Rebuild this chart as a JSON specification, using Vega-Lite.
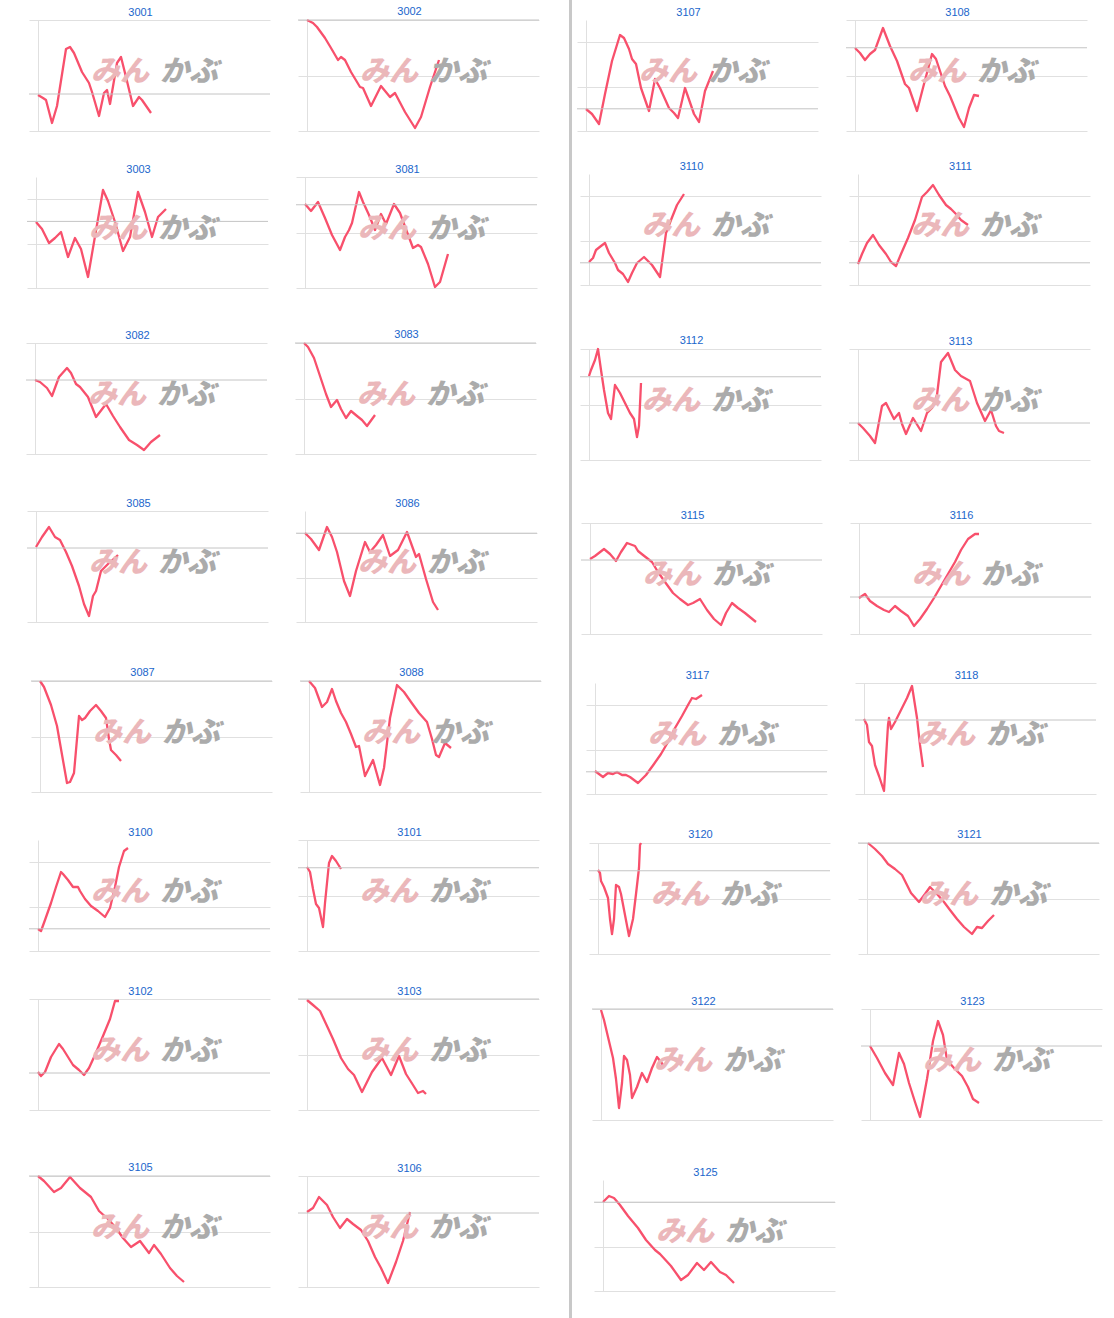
{
"$schema":"https://vega.github.io/schema/vega-lite/v6.json",
"background":"white",
"padding":{"left":24,"top":0,"right":0,"bottom":0},
"config":{
 "view":{"stroke":null},
 "axis":{"labels":false,"ticks":false,"domain":false,"grid":true,"gridColor":"#e0e0e0","gridWidth":1},
 "axisY":{"minExtent":0,"maxExtent":0},
 "axisX":{"minExtent":0,"maxExtent":0},
 "title":{"font":"Liberation Sans","fontSize":11,"fontWeight":"normal","color":"#1a66cc","offset":2,"anchor":"middle","dx":-9},
 "line":{"color":"#f8506c","strokeWidth":2.3,"strokeJoin":"round"},
 "rule":{"color":"#c4c4c4","strokeWidth":1},
 "point":{"size":0,"opacity":0,"filled":true,"strokeWidth":0},
 "text":{"font":"Noto Sans CJK JP","fontSize":29,"fontWeight":900,"fontStyle":"italic","align":"center","baseline":"middle"}
},
"datasets":{"d":[
{"c":"3001","t":0,"v":36},{"c":"3001","t":5,"v":33},{"c":"3001","t":8,"v":31},{"c":"3001","t":14,"v":8},{"c":"3001","t":19,"v":25},{"c":"3001","t":28,"v":82},{"c":"3001","t":32,"v":84},{"c":"3001","t":36,"v":78},{"c":"3001","t":44,"v":59},{"c":"3001","t":51,"v":48},{"c":"3001","t":54,"v":39},{"c":"3001","t":61,"v":15},{"c":"3001","t":66,"v":38},{"c":"3001","t":69,"v":41},{"c":"3001","t":72,"v":27},{"c":"3001","t":79,"v":68},{"c":"3001","t":83,"v":74},{"c":"3001","t":88,"v":54},{"c":"3001","t":95,"v":25},{"c":"3001","t":101,"v":34},{"c":"3001","t":104,"v":31},{"c":"3001","t":113,"v":18},
{"c":"3002","t":0,"v":111},{"c":"3002","t":6,"v":108},{"c":"3002","t":10,"v":104},{"c":"3002","t":18,"v":93},{"c":"3002","t":24,"v":83},{"c":"3002","t":31,"v":71},{"c":"3002","t":34,"v":74},{"c":"3002","t":38,"v":71},{"c":"3002","t":44,"v":59},{"c":"3002","t":53,"v":44},{"c":"3002","t":56,"v":43},{"c":"3002","t":64,"v":25},{"c":"3002","t":74,"v":45},{"c":"3002","t":83,"v":34},{"c":"3002","t":88,"v":38},{"c":"3002","t":98,"v":19},{"c":"3002","t":108,"v":3},{"c":"3002","t":114,"v":14},{"c":"3002","t":123,"v":44},{"c":"3002","t":132,"v":71},
{"c":"3003","t":0,"v":66},{"c":"3003","t":6,"v":59},{"c":"3003","t":13,"v":45},{"c":"3003","t":19,"v":50},{"c":"3003","t":25,"v":56},{"c":"3003","t":32,"v":31},{"c":"3003","t":39,"v":50},{"c":"3003","t":45,"v":39},{"c":"3003","t":52,"v":11},{"c":"3003","t":67,"v":98},{"c":"3003","t":72,"v":87},{"c":"3003","t":79,"v":66},{"c":"3003","t":87,"v":37},{"c":"3003","t":94,"v":51},{"c":"3003","t":102,"v":96},{"c":"3003","t":109,"v":76},{"c":"3003","t":116,"v":51},{"c":"3003","t":122,"v":71},{"c":"3003","t":130,"v":79},
{"c":"3081","t":0,"v":84},{"c":"3081","t":6,"v":77},{"c":"3081","t":13,"v":86},{"c":"3081","t":20,"v":70},{"c":"3081","t":27,"v":53},{"c":"3081","t":35,"v":38},{"c":"3081","t":40,"v":51},{"c":"3081","t":44,"v":58},{"c":"3081","t":47,"v":65},{"c":"3081","t":54,"v":96},{"c":"3081","t":58,"v":86},{"c":"3081","t":64,"v":73},{"c":"3081","t":70,"v":58},{"c":"3081","t":76,"v":74},{"c":"3081","t":81,"v":64},{"c":"3081","t":89,"v":84},{"c":"3081","t":95,"v":75},{"c":"3081","t":102,"v":56},{"c":"3081","t":108,"v":40},{"c":"3081","t":113,"v":43},{"c":"3081","t":116,"v":41},{"c":"3081","t":123,"v":24},{"c":"3081","t":130,"v":1},{"c":"3081","t":135,"v":6},{"c":"3081","t":143,"v":34},
{"c":"3082","t":0,"v":74},{"c":"3082","t":5,"v":72},{"c":"3082","t":12,"v":66},{"c":"3082","t":17,"v":58},{"c":"3082","t":24,"v":77},{"c":"3082","t":32,"v":86},{"c":"3082","t":36,"v":81},{"c":"3082","t":41,"v":70},{"c":"3082","t":45,"v":67},{"c":"3082","t":53,"v":57},{"c":"3082","t":61,"v":37},{"c":"3082","t":71,"v":50},{"c":"3082","t":78,"v":38},{"c":"3082","t":85,"v":27},{"c":"3082","t":94,"v":14},{"c":"3082","t":102,"v":9},{"c":"3082","t":109,"v":4},{"c":"3082","t":116,"v":12},{"c":"3082","t":125,"v":19},
{"c":"3083","t":0,"v":111},{"c":"3083","t":4,"v":107},{"c":"3083","t":10,"v":96},{"c":"3083","t":17,"v":75},{"c":"3083","t":22,"v":60},{"c":"3083","t":27,"v":47},{"c":"3083","t":33,"v":54},{"c":"3083","t":37,"v":45},{"c":"3083","t":42,"v":36},{"c":"3083","t":47,"v":43},{"c":"3083","t":53,"v":38},{"c":"3083","t":58,"v":34},{"c":"3083","t":63,"v":28},{"c":"3083","t":71,"v":39},
{"c":"3085","t":0,"v":75},{"c":"3085","t":6,"v":85},{"c":"3085","t":13,"v":95},{"c":"3085","t":19,"v":85},{"c":"3085","t":24,"v":82},{"c":"3085","t":30,"v":70},{"c":"3085","t":36,"v":56},{"c":"3085","t":43,"v":36},{"c":"3085","t":48,"v":18},{"c":"3085","t":53,"v":6},{"c":"3085","t":57,"v":26},{"c":"3085","t":60,"v":31},{"c":"3085","t":65,"v":51},{"c":"3085","t":72,"v":58},{"c":"3085","t":82,"v":67},
{"c":"3086","t":0,"v":89},{"c":"3086","t":6,"v":83},{"c":"3086","t":14,"v":72},{"c":"3086","t":22,"v":95},{"c":"3086","t":27,"v":85},{"c":"3086","t":32,"v":70},{"c":"3086","t":39,"v":41},{"c":"3086","t":45,"v":26},{"c":"3086","t":51,"v":51},{"c":"3086","t":60,"v":80},{"c":"3086","t":65,"v":70},{"c":"3086","t":71,"v":77},{"c":"3086","t":78,"v":87},{"c":"3086","t":85,"v":66},{"c":"3086","t":93,"v":72},{"c":"3086","t":102,"v":90},{"c":"3086","t":111,"v":65},{"c":"3086","t":114,"v":68},{"c":"3086","t":121,"v":43},{"c":"3086","t":128,"v":20},{"c":"3086","t":133,"v":12},
{"c":"3087","t":0,"v":111},{"c":"3087","t":4,"v":105},{"c":"3087","t":11,"v":87},{"c":"3087","t":17,"v":66},{"c":"3087","t":21,"v":43},{"c":"3087","t":27,"v":9},{"c":"3087","t":30,"v":10},{"c":"3087","t":34,"v":19},{"c":"3087","t":39,"v":76},{"c":"3087","t":42,"v":72},{"c":"3087","t":45,"v":74},{"c":"3087","t":50,"v":81},{"c":"3087","t":56,"v":87},{"c":"3087","t":61,"v":81},{"c":"3087","t":66,"v":74},{"c":"3087","t":69,"v":53},{"c":"3087","t":71,"v":42},{"c":"3087","t":76,"v":37},{"c":"3087","t":81,"v":31},
{"c":"3088","t":0,"v":111},{"c":"3088","t":6,"v":104},{"c":"3088","t":13,"v":85},{"c":"3088","t":18,"v":90},{"c":"3088","t":23,"v":103},{"c":"3088","t":27,"v":91},{"c":"3088","t":32,"v":79},{"c":"3088","t":37,"v":70},{"c":"3088","t":42,"v":58},{"c":"3088","t":47,"v":45},{"c":"3088","t":50,"v":46},{"c":"3088","t":56,"v":16},{"c":"3088","t":64,"v":32},{"c":"3088","t":71,"v":7},{"c":"3088","t":75,"v":24},{"c":"3088","t":81,"v":74},{"c":"3088","t":88,"v":107},{"c":"3088","t":95,"v":100},{"c":"3088","t":102,"v":90},{"c":"3088","t":110,"v":79},{"c":"3088","t":118,"v":70},{"c":"3088","t":123,"v":53},{"c":"3088","t":127,"v":37},{"c":"3088","t":130,"v":35},{"c":"3088","t":136,"v":49},{"c":"3088","t":142,"v":44},
{"c":"3100","t":0,"v":22},{"c":"3100","t":3,"v":20},{"c":"3100","t":7,"v":31},{"c":"3100","t":13,"v":48},{"c":"3100","t":18,"v":64},{"c":"3100","t":23,"v":79},{"c":"3100","t":25,"v":77},{"c":"3100","t":30,"v":71},{"c":"3100","t":35,"v":64},{"c":"3100","t":40,"v":64},{"c":"3100","t":42,"v":60},{"c":"3100","t":47,"v":52},{"c":"3100","t":53,"v":45},{"c":"3100","t":60,"v":40},{"c":"3100","t":67,"v":34},{"c":"3100","t":72,"v":43},{"c":"3100","t":77,"v":64},{"c":"3100","t":81,"v":84},{"c":"3100","t":86,"v":100},{"c":"3100","t":90,"v":103},
{"c":"3101","t":0,"v":84},{"c":"3101","t":3,"v":79},{"c":"3101","t":6,"v":62},{"c":"3101","t":9,"v":47},{"c":"3101","t":12,"v":43},{"c":"3101","t":16,"v":24},{"c":"3101","t":18,"v":48},{"c":"3101","t":22,"v":88},{"c":"3101","t":25,"v":95},{"c":"3101","t":29,"v":90},{"c":"3101","t":34,"v":82},
{"c":"3102","t":0,"v":38},{"c":"3102","t":3,"v":34},{"c":"3102","t":7,"v":38},{"c":"3102","t":13,"v":53},{"c":"3102","t":21,"v":66},{"c":"3102","t":25,"v":61},{"c":"3102","t":30,"v":53},{"c":"3102","t":35,"v":45},{"c":"3102","t":41,"v":40},{"c":"3102","t":46,"v":35},{"c":"3102","t":51,"v":42},{"c":"3102","t":57,"v":55},{"c":"3102","t":65,"v":74},{"c":"3102","t":72,"v":91},{"c":"3102","t":77,"v":109},{"c":"3102","t":81,"v":109},
{"c":"3103","t":0,"v":110},{"c":"3103","t":6,"v":105},{"c":"3103","t":13,"v":99},{"c":"3103","t":20,"v":84},{"c":"3103","t":26,"v":71},{"c":"3103","t":34,"v":52},{"c":"3103","t":41,"v":41},{"c":"3103","t":47,"v":35},{"c":"3103","t":55,"v":18},{"c":"3103","t":65,"v":38},{"c":"3103","t":75,"v":52},{"c":"3103","t":84,"v":35},{"c":"3103","t":92,"v":54},{"c":"3103","t":99,"v":36},{"c":"3103","t":106,"v":25},{"c":"3103","t":111,"v":17},{"c":"3103","t":116,"v":19},{"c":"3103","t":119,"v":16},
{"c":"3105","t":0,"v":111},{"c":"3105","t":6,"v":106},{"c":"3105","t":16,"v":95},{"c":"3105","t":23,"v":99},{"c":"3105","t":32,"v":110},{"c":"3105","t":42,"v":99},{"c":"3105","t":53,"v":90},{"c":"3105","t":61,"v":76},{"c":"3105","t":70,"v":68},{"c":"3105","t":78,"v":59},{"c":"3105","t":85,"v":49},{"c":"3105","t":93,"v":40},{"c":"3105","t":102,"v":46},{"c":"3105","t":111,"v":34},{"c":"3105","t":116,"v":42},{"c":"3105","t":123,"v":33},{"c":"3105","t":132,"v":19},{"c":"3105","t":139,"v":11},{"c":"3105","t":146,"v":5},
{"c":"3106","t":0,"v":75},{"c":"3106","t":6,"v":79},{"c":"3106","t":12,"v":90},{"c":"3106","t":20,"v":82},{"c":"3106","t":26,"v":70},{"c":"3106","t":33,"v":59},{"c":"3106","t":40,"v":68},{"c":"3106","t":46,"v":63},{"c":"3106","t":54,"v":57},{"c":"3106","t":61,"v":46},{"c":"3106","t":68,"v":30},{"c":"3106","t":74,"v":19},{"c":"3106","t":81,"v":4},{"c":"3106","t":89,"v":25},{"c":"3106","t":96,"v":46},{"c":"3106","t":103,"v":75},
{"c":"3107","t":0,"v":22},{"c":"3107","t":6,"v":17},{"c":"3107","t":13,"v":7},{"c":"3107","t":19,"v":37},{"c":"3107","t":26,"v":70},{"c":"3107","t":34,"v":96},{"c":"3107","t":38,"v":93},{"c":"3107","t":43,"v":82},{"c":"3107","t":46,"v":72},{"c":"3107","t":50,"v":67},{"c":"3107","t":55,"v":43},{"c":"3107","t":63,"v":20},{"c":"3107","t":69,"v":52},{"c":"3107","t":74,"v":43},{"c":"3107","t":83,"v":23},{"c":"3107","t":88,"v":18},{"c":"3107","t":92,"v":13},{"c":"3107","t":99,"v":43},{"c":"3107","t":108,"v":17},{"c":"3107","t":113,"v":9},{"c":"3107","t":119,"v":40},{"c":"3107","t":127,"v":60},
{"c":"3108","t":0,"v":83},{"c":"3108","t":5,"v":78},{"c":"3108","t":10,"v":71},{"c":"3108","t":15,"v":77},{"c":"3108","t":20,"v":81},{"c":"3108","t":28,"v":103},{"c":"3108","t":35,"v":85},{"c":"3108","t":42,"v":70},{"c":"3108","t":50,"v":47},{"c":"3108","t":54,"v":43},{"c":"3108","t":62,"v":20},{"c":"3108","t":69,"v":47},{"c":"3108","t":77,"v":77},{"c":"3108","t":81,"v":72},{"c":"3108","t":90,"v":45},{"c":"3108","t":95,"v":35},{"c":"3108","t":104,"v":13},{"c":"3108","t":109,"v":4},{"c":"3108","t":114,"v":23},{"c":"3108","t":119,"v":36},{"c":"3108","t":124,"v":35},
{"c":"3110","t":0,"v":23},{"c":"3110","t":4,"v":27},{"c":"3110","t":7,"v":35},{"c":"3110","t":12,"v":39},{"c":"3110","t":16,"v":42},{"c":"3110","t":20,"v":32},{"c":"3110","t":26,"v":22},{"c":"3110","t":29,"v":15},{"c":"3110","t":34,"v":11},{"c":"3110","t":39,"v":3},{"c":"3110","t":43,"v":12},{"c":"3110","t":48,"v":22},{"c":"3110","t":55,"v":28},{"c":"3110","t":63,"v":20},{"c":"3110","t":71,"v":8},{"c":"3110","t":74,"v":30},{"c":"3110","t":77,"v":52},{"c":"3110","t":82,"v":65},{"c":"3110","t":88,"v":80},{"c":"3110","t":95,"v":91},
{"c":"3111","t":0,"v":21},{"c":"3111","t":4,"v":31},{"c":"3111","t":9,"v":42},{"c":"3111","t":15,"v":50},{"c":"3111","t":21,"v":40},{"c":"3111","t":28,"v":31},{"c":"3111","t":33,"v":23},{"c":"3111","t":38,"v":19},{"c":"3111","t":43,"v":31},{"c":"3111","t":50,"v":47},{"c":"3111","t":57,"v":65},{"c":"3111","t":64,"v":88},{"c":"3111","t":69,"v":93},{"c":"3111","t":75,"v":100},{"c":"3111","t":81,"v":90},{"c":"3111","t":88,"v":80},{"c":"3111","t":93,"v":76},{"c":"3111","t":98,"v":71},{"c":"3111","t":103,"v":65},{"c":"3111","t":110,"v":60},
{"c":"3112","t":0,"v":84},{"c":"3112","t":2,"v":90},{"c":"3112","t":6,"v":100},{"c":"3112","t":9,"v":111},{"c":"3112","t":12,"v":90},{"c":"3112","t":15,"v":70},{"c":"3112","t":19,"v":47},{"c":"3112","t":22,"v":41},{"c":"3112","t":26,"v":75},{"c":"3112","t":31,"v":67},{"c":"3112","t":36,"v":57},{"c":"3112","t":41,"v":47},{"c":"3112","t":45,"v":41},{"c":"3112","t":48,"v":23},{"c":"3112","t":50,"v":34},{"c":"3112","t":52,"v":77},
{"c":"3113","t":0,"v":37},{"c":"3113","t":5,"v":32},{"c":"3113","t":12,"v":24},{"c":"3113","t":17,"v":17},{"c":"3113","t":24,"v":54},{"c":"3113","t":28,"v":57},{"c":"3113","t":33,"v":47},{"c":"3113","t":36,"v":41},{"c":"3113","t":41,"v":47},{"c":"3113","t":44,"v":36},{"c":"3113","t":48,"v":26},{"c":"3113","t":55,"v":42},{"c":"3113","t":63,"v":29},{"c":"3113","t":69,"v":47},{"c":"3113","t":74,"v":52},{"c":"3113","t":79,"v":65},{"c":"3113","t":83,"v":98},{"c":"3113","t":90,"v":107},{"c":"3113","t":97,"v":90},{"c":"3113","t":103,"v":84},{"c":"3113","t":112,"v":79},{"c":"3113","t":119,"v":57},{"c":"3113","t":127,"v":39},{"c":"3113","t":133,"v":50},{"c":"3113","t":138,"v":34},{"c":"3113","t":141,"v":29},{"c":"3113","t":146,"v":27},
{"c":"3115","t":0,"v":75},{"c":"3115","t":5,"v":78},{"c":"3115","t":14,"v":85},{"c":"3115","t":20,"v":80},{"c":"3115","t":26,"v":73},{"c":"3115","t":31,"v":82},{"c":"3115","t":37,"v":91},{"c":"3115","t":45,"v":88},{"c":"3115","t":48,"v":83},{"c":"3115","t":53,"v":79},{"c":"3115","t":62,"v":72},{"c":"3115","t":68,"v":62},{"c":"3115","t":75,"v":52},{"c":"3115","t":83,"v":41},{"c":"3115","t":90,"v":35},{"c":"3115","t":98,"v":29},{"c":"3115","t":103,"v":31},{"c":"3115","t":110,"v":35},{"c":"3115","t":117,"v":24},{"c":"3115","t":124,"v":15},{"c":"3115","t":131,"v":9},{"c":"3115","t":136,"v":21},{"c":"3115","t":142,"v":31},{"c":"3115","t":148,"v":26},{"c":"3115","t":155,"v":21},{"c":"3115","t":166,"v":12},
{"c":"3116","t":0,"v":36},{"c":"3116","t":6,"v":40},{"c":"3116","t":11,"v":33},{"c":"3116","t":18,"v":28},{"c":"3116","t":25,"v":24},{"c":"3116","t":30,"v":22},{"c":"3116","t":36,"v":28},{"c":"3116","t":42,"v":23},{"c":"3116","t":49,"v":18},{"c":"3116","t":55,"v":8},{"c":"3116","t":61,"v":15},{"c":"3116","t":68,"v":25},{"c":"3116","t":75,"v":36},{"c":"3116","t":82,"v":48},{"c":"3116","t":89,"v":60},{"c":"3116","t":96,"v":72},{"c":"3116","t":102,"v":84},{"c":"3116","t":109,"v":95},{"c":"3116","t":116,"v":100},{"c":"3116","t":120,"v":100},
{"c":"3117","t":0,"v":23},{"c":"3117","t":4,"v":20},{"c":"3117","t":8,"v":17},{"c":"3117","t":13,"v":21},{"c":"3117","t":18,"v":20},{"c":"3117","t":22,"v":22},{"c":"3117","t":27,"v":19},{"c":"3117","t":31,"v":19},{"c":"3117","t":35,"v":17},{"c":"3117","t":43,"v":11},{"c":"3117","t":51,"v":19},{"c":"3117","t":59,"v":30},{"c":"3117","t":66,"v":40},{"c":"3117","t":73,"v":52},{"c":"3117","t":80,"v":66},{"c":"3117","t":87,"v":78},{"c":"3117","t":93,"v":89},{"c":"3117","t":97,"v":96},{"c":"3117","t":101,"v":95},{"c":"3117","t":107,"v":99},
{"c":"3118","t":0,"v":75},{"c":"3118","t":3,"v":69},{"c":"3118","t":5,"v":52},{"c":"3118","t":8,"v":48},{"c":"3118","t":11,"v":29},{"c":"3118","t":15,"v":18},{"c":"3118","t":20,"v":3},{"c":"3118","t":24,"v":69},{"c":"3118","t":25,"v":76},{"c":"3118","t":27,"v":65},{"c":"3118","t":31,"v":72},{"c":"3118","t":36,"v":82},{"c":"3118","t":43,"v":96},{"c":"3118","t":48,"v":108},{"c":"3118","t":53,"v":76},{"c":"3118","t":56,"v":49},{"c":"3118","t":59,"v":27},
{"c":"3120","t":0,"v":84},{"c":"3120","t":2,"v":81},{"c":"3120","t":3,"v":73},{"c":"3120","t":6,"v":67},{"c":"3120","t":10,"v":56},{"c":"3120","t":12,"v":35},{"c":"3120","t":14,"v":20},{"c":"3120","t":16,"v":35},{"c":"3120","t":18,"v":69},{"c":"3120","t":21,"v":67},{"c":"3120","t":23,"v":60},{"c":"3120","t":27,"v":39},{"c":"3120","t":31,"v":18},{"c":"3120","t":35,"v":35},{"c":"3120","t":38,"v":60},{"c":"3120","t":41,"v":86},{"c":"3120","t":42,"v":109},{"c":"3120","t":43,"v":111},
{"c":"3121","t":1,"v":111},{"c":"3121","t":8,"v":105},{"c":"3121","t":15,"v":98},{"c":"3121","t":21,"v":90},{"c":"3121","t":28,"v":85},{"c":"3121","t":35,"v":79},{"c":"3121","t":39,"v":71},{"c":"3121","t":44,"v":61},{"c":"3121","t":52,"v":52},{"c":"3121","t":58,"v":60},{"c":"3121","t":63,"v":67},{"c":"3121","t":70,"v":60},{"c":"3121","t":77,"v":52},{"c":"3121","t":83,"v":44},{"c":"3121","t":90,"v":35},{"c":"3121","t":97,"v":27},{"c":"3121","t":105,"v":20},{"c":"3121","t":110,"v":27},{"c":"3121","t":115,"v":26},{"c":"3121","t":121,"v":33},{"c":"3121","t":127,"v":39},
{"c":"3122","t":0,"v":110},{"c":"3122","t":3,"v":100},{"c":"3122","t":7,"v":83},{"c":"3122","t":12,"v":62},{"c":"3122","t":15,"v":41},{"c":"3122","t":18,"v":12},{"c":"3122","t":21,"v":37},{"c":"3122","t":23,"v":64},{"c":"3122","t":26,"v":60},{"c":"3122","t":29,"v":45},{"c":"3122","t":31,"v":22},{"c":"3122","t":36,"v":33},{"c":"3122","t":41,"v":47},{"c":"3122","t":46,"v":38},{"c":"3122","t":51,"v":52},{"c":"3122","t":56,"v":63},{"c":"3122","t":60,"v":58},{"c":"3122","t":62,"v":55},
{"c":"3123","t":0,"v":74},{"c":"3123","t":7,"v":62},{"c":"3123","t":15,"v":47},{"c":"3123","t":23,"v":35},{"c":"3123","t":29,"v":67},{"c":"3123","t":34,"v":56},{"c":"3123","t":39,"v":37},{"c":"3123","t":45,"v":18},{"c":"3123","t":50,"v":3},{"c":"3123","t":57,"v":41},{"c":"3123","t":63,"v":79},{"c":"3123","t":68,"v":99},{"c":"3123","t":73,"v":85},{"c":"3123","t":77,"v":60},{"c":"3123","t":84,"v":52},{"c":"3123","t":92,"v":44},{"c":"3123","t":98,"v":33},{"c":"3123","t":103,"v":21},{"c":"3123","t":109,"v":17},
{"c":"3125","t":0,"v":89},{"c":"3125","t":6,"v":95},{"c":"3125","t":11,"v":93},{"c":"3125","t":17,"v":86},{"c":"3125","t":25,"v":75},{"c":"3125","t":35,"v":63},{"c":"3125","t":43,"v":51},{"c":"3125","t":52,"v":41},{"c":"3125","t":57,"v":37},{"c":"3125","t":68,"v":25},{"c":"3125","t":78,"v":11},{"c":"3125","t":85,"v":16},{"c":"3125","t":94,"v":28},{"c":"3125","t":101,"v":21},{"c":"3125","t":108,"v":29},{"c":"3125","t":117,"v":19},{"c":"3125","t":123,"v":16},{"c":"3125","t":131,"v":8}
]},
"columns":3,
"align":"none",
"spacing":3,
"concat":[
{"columns":1,"align":"none","spacing":31,"concat":[
 {"spacing":0,"hconcat":[
  {"width":4,"height":111,"data":{"values":[{}]},"mark":"point","encoding":{}},
  {"title":"3001","width":241,"height":111,"layer":[
   {"data":{"name":"d"},"transform":[{"filter":"datum.c=='3001'"}],"mark":"line","encoding":{
    "x":{"field":"t","type":"quantitative","scale":{"domain":[-9,232],"nice":false,"zero":false},"axis":{"values":[0],"title":null,"minExtent":2,"maxExtent":2}},
    "y":{"field":"v","type":"quantitative","scale":{"domain":[0,111],"nice":false,"zero":false},"axis":{"values":[0,37,74,111],"title":null}}}},
   {"data":{"values":[{}]},"mark":"rule","encoding":{"y":{"datum":37}}},
   {"data":{"values":[{}]},"mark":{"type":"text","text":"みん","color":"#ebb7ba"},"encoding":{"x":{"datum":82},"y":{"datum":59}}},
   {"data":{"values":[{}]},"mark":{"type":"text","text":"かぶ","color":"#ababab"},"encoding":{"x":{"datum":151},"y":{"datum":59}}}]},
  {"title":"3002","width":241,"height":111,"layer":[
   {"data":{"name":"d"},"transform":[{"filter":"datum.c=='3002'"}],"mark":"line","encoding":{
    "x":{"field":"t","type":"quantitative","scale":{"domain":[-9,232],"nice":false,"zero":false},"axis":{"values":[0],"title":null,"minExtent":2,"maxExtent":2}},
    "y":{"field":"v","type":"quantitative","scale":{"domain":[0,111],"nice":false,"zero":false},"axis":{"values":[0,27.75,55.5,83.25,111],"title":null,"minExtent":27,"maxExtent":27}}}},
   {"data":{"values":[{}]},"mark":"rule","encoding":{"y":{"datum":111}}},
   {"data":{"values":[{}]},"mark":{"type":"text","text":"みん","color":"#ebb7ba"},"encoding":{"x":{"datum":82},"y":{"datum":59}}},
   {"data":{"values":[{}]},"mark":{"type":"text","text":"かぶ","color":"#ababab"},"encoding":{"x":{"datum":151},"y":{"datum":59}}}]}
 ]},
 {"spacing":0,"hconcat":[
  {"width":2,"height":111,"data":{"values":[{}]},"mark":"point","encoding":{}},
  {"title":"3003","width":241,"height":111,"layer":[
   {"data":{"name":"d"},"transform":[{"filter":"datum.c=='3003'"}],"mark":"line","encoding":{
    "x":{"field":"t","type":"quantitative","scale":{"domain":[-9,232],"nice":false,"zero":false},"axis":{"values":[0],"title":null,"minExtent":9,"maxExtent":9}},
    "y":{"field":"v","type":"quantitative","scale":{"domain":[0,111],"nice":false,"zero":false},"axis":{"values":[0,22.2,44.4,66.6,88.8,111],"title":null}}}},
   {"data":{"values":[{}]},"mark":"rule","encoding":{"y":{"datum":66.6}}},
   {"data":{"values":[{}]},"mark":{"type":"text","text":"みん","color":"#ebb7ba"},"encoding":{"x":{"datum":82},"y":{"datum":59}}},
   {"data":{"values":[{}]},"mark":{"type":"text","text":"かぶ","color":"#ababab"},"encoding":{"x":{"datum":151},"y":{"datum":59}}}]},
  {"title":"3081","width":241,"height":111,"layer":[
   {"data":{"name":"d"},"transform":[{"filter":"datum.c=='3081'"}],"mark":"line","encoding":{
    "x":{"field":"t","type":"quantitative","scale":{"domain":[-9,232],"nice":false,"zero":false},"axis":{"values":[0],"title":null,"minExtent":9,"maxExtent":9}},
    "y":{"field":"v","type":"quantitative","scale":{"domain":[0,111],"nice":false,"zero":false},"axis":{"values":[0,27.75,55.5,83.25,111],"title":null,"minExtent":27,"maxExtent":27}}}},
   {"data":{"values":[{}]},"mark":"rule","encoding":{"y":{"datum":83.25}}},
   {"data":{"values":[{}]},"mark":{"type":"text","text":"みん","color":"#ebb7ba"},"encoding":{"x":{"datum":82},"y":{"datum":59}}},
   {"data":{"values":[{}]},"mark":{"type":"text","text":"かぶ","color":"#ababab"},"encoding":{"x":{"datum":151},"y":{"datum":59}}}]}
 ]},
 {"spacing":0,"hconcat":[
  {"width":1,"height":111,"data":{"values":[{}]},"mark":"point","encoding":{}},
  {"title":"3082","width":241,"height":111,"layer":[
   {"data":{"name":"d"},"transform":[{"filter":"datum.c=='3082'"}],"mark":"line","encoding":{
    "x":{"field":"t","type":"quantitative","scale":{"domain":[-9,232],"nice":false,"zero":false},"axis":{"values":[0],"title":null,"minExtent":13,"maxExtent":13}},
    "y":{"field":"v","type":"quantitative","scale":{"domain":[0,111],"nice":false,"zero":false},"axis":{"values":[0,37,74,111],"title":null}}}},
   {"data":{"values":[{}]},"mark":"rule","encoding":{"y":{"datum":74}}},
   {"data":{"values":[{}]},"mark":{"type":"text","text":"みん","color":"#ebb7ba"},"encoding":{"x":{"datum":82},"y":{"datum":59}}},
   {"data":{"values":[{}]},"mark":{"type":"text","text":"かぶ","color":"#ababab"},"encoding":{"x":{"datum":151},"y":{"datum":59}}}]},
  {"title":"3083","width":241,"height":111,"layer":[
   {"data":{"name":"d"},"transform":[{"filter":"datum.c=='3083'"}],"mark":"line","encoding":{
    "x":{"field":"t","type":"quantitative","scale":{"domain":[-9,232],"nice":false,"zero":false},"axis":{"values":[0],"title":null,"minExtent":13,"maxExtent":13}},
    "y":{"field":"v","type":"quantitative","scale":{"domain":[0,111],"nice":false,"zero":false},"axis":{"values":[0,27.75,55.5,83.25,111],"title":null,"minExtent":27,"maxExtent":27}}}},
   {"data":{"values":[{}]},"mark":"rule","encoding":{"y":{"datum":111}}},
   {"data":{"values":[{}]},"mark":{"type":"text","text":"みん","color":"#ebb7ba"},"encoding":{"x":{"datum":82},"y":{"datum":59}}},
   {"data":{"values":[{}]},"mark":{"type":"text","text":"かぶ","color":"#ababab"},"encoding":{"x":{"datum":151},"y":{"datum":59}}}]}
 ]},
 {"spacing":0,"hconcat":[
  {"width":2,"height":111,"data":{"values":[{}]},"mark":"point","encoding":{}},
  {"title":"3085","width":241,"height":111,"layer":[
   {"data":{"name":"d"},"transform":[{"filter":"datum.c=='3085'"}],"mark":"line","encoding":{
    "x":{"field":"t","type":"quantitative","scale":{"domain":[-9,232],"nice":false,"zero":false},"axis":{"values":[0],"title":null,"minExtent":13,"maxExtent":13}},
    "y":{"field":"v","type":"quantitative","scale":{"domain":[0,111],"nice":false,"zero":false},"axis":{"values":[0,37,74,111],"title":null}}}},
   {"data":{"values":[{}]},"mark":"rule","encoding":{"y":{"datum":74}}},
   {"data":{"values":[{}]},"mark":{"type":"text","text":"みん","color":"#ebb7ba"},"encoding":{"x":{"datum":82},"y":{"datum":59}}},
   {"data":{"values":[{}]},"mark":{"type":"text","text":"かぶ","color":"#ababab"},"encoding":{"x":{"datum":151},"y":{"datum":59}}}]},
  {"title":"3086","width":241,"height":111,"layer":[
   {"data":{"name":"d"},"transform":[{"filter":"datum.c=='3086'"}],"mark":"line","encoding":{
    "x":{"field":"t","type":"quantitative","scale":{"domain":[-9,232],"nice":false,"zero":false},"axis":{"values":[0],"title":null,"minExtent":13,"maxExtent":13}},
    "y":{"field":"v","type":"quantitative","scale":{"domain":[0,111],"nice":false,"zero":false},"axis":{"values":[0,22.2,44.4,66.6,88.8,111],"title":null,"minExtent":27,"maxExtent":27}}}},
   {"data":{"values":[{}]},"mark":"rule","encoding":{"y":{"datum":88.8}}},
   {"data":{"values":[{}]},"mark":{"type":"text","text":"みん","color":"#ebb7ba"},"encoding":{"x":{"datum":82},"y":{"datum":59}}},
   {"data":{"values":[{}]},"mark":{"type":"text","text":"かぶ","color":"#ababab"},"encoding":{"x":{"datum":151},"y":{"datum":59}}}]}
 ]},
 {"spacing":0,"hconcat":[
  {"width":6,"height":111,"data":{"values":[{}]},"mark":"point","encoding":{}},
  {"title":"3087","width":241,"height":111,"layer":[
   {"data":{"name":"d"},"transform":[{"filter":"datum.c=='3087'"}],"mark":"line","encoding":{
    "x":{"field":"t","type":"quantitative","scale":{"domain":[-9,232],"nice":false,"zero":false},"axis":{"values":[0],"title":null,"minExtent":4,"maxExtent":4}},
    "y":{"field":"v","type":"quantitative","scale":{"domain":[0,111],"nice":false,"zero":false},"axis":{"values":[0,27.75,55.5,83.25,111],"title":null}}}},
   {"data":{"values":[{}]},"mark":"rule","encoding":{"y":{"datum":111}}},
   {"data":{"values":[{}]},"mark":{"type":"text","text":"みん","color":"#ebb7ba"},"encoding":{"x":{"datum":82},"y":{"datum":59}}},
   {"data":{"values":[{}]},"mark":{"type":"text","text":"かぶ","color":"#ababab"},"encoding":{"x":{"datum":151},"y":{"datum":59}}}]},
  {"title":"3088","width":241,"height":111,"layer":[
   {"data":{"name":"d"},"transform":[{"filter":"datum.c=='3088'"}],"mark":"line","encoding":{
    "x":{"field":"t","type":"quantitative","scale":{"domain":[-9,232],"nice":false,"zero":false},"axis":{"values":[0],"title":null,"minExtent":4,"maxExtent":4}},
    "y":{"field":"v","type":"quantitative","scale":{"domain":[0,111],"nice":false,"zero":false},"axis":{"values":[0,37,74,111],"title":null,"minExtent":27,"maxExtent":27}}}},
   {"data":{"values":[{}]},"mark":"rule","encoding":{"y":{"datum":111}}},
   {"data":{"values":[{}]},"mark":{"type":"text","text":"みん","color":"#ebb7ba"},"encoding":{"x":{"datum":82},"y":{"datum":59}}},
   {"data":{"values":[{}]},"mark":{"type":"text","text":"かぶ","color":"#ababab"},"encoding":{"x":{"datum":151},"y":{"datum":59}}}]}
 ]},
 {"spacing":0,"hconcat":[
  {"width":4,"height":111,"data":{"values":[{}]},"mark":"point","encoding":{}},
  {"title":"3100","width":241,"height":111,"layer":[
   {"data":{"name":"d"},"transform":[{"filter":"datum.c=='3100'"}],"mark":"line","encoding":{
    "x":{"field":"t","type":"quantitative","scale":{"domain":[-9,232],"nice":false,"zero":false},"axis":{"values":[0],"title":null,"minExtent":3,"maxExtent":3}},
    "y":{"field":"v","type":"quantitative","scale":{"domain":[0,111],"nice":false,"zero":false},"axis":{"values":[0,22.2,44.4,66.6,88.8,111],"title":null}}}},
   {"data":{"values":[{}]},"mark":"rule","encoding":{"y":{"datum":22.2}}},
   {"data":{"values":[{}]},"mark":{"type":"text","text":"みん","color":"#ebb7ba"},"encoding":{"x":{"datum":82},"y":{"datum":59}}},
   {"data":{"values":[{}]},"mark":{"type":"text","text":"かぶ","color":"#ababab"},"encoding":{"x":{"datum":151},"y":{"datum":59}}}]},
  {"title":"3101","width":241,"height":111,"layer":[
   {"data":{"name":"d"},"transform":[{"filter":"datum.c=='3101'"}],"mark":"line","encoding":{
    "x":{"field":"t","type":"quantitative","scale":{"domain":[-9,232],"nice":false,"zero":false},"axis":{"values":[0],"title":null,"minExtent":3,"maxExtent":3}},
    "y":{"field":"v","type":"quantitative","scale":{"domain":[0,111],"nice":false,"zero":false},"axis":{"values":[0,27.75,55.5,83.25,111],"title":null,"minExtent":27,"maxExtent":27}}}},
   {"data":{"values":[{}]},"mark":"rule","encoding":{"y":{"datum":83.25}}},
   {"data":{"values":[{}]},"mark":{"type":"text","text":"みん","color":"#ebb7ba"},"encoding":{"x":{"datum":82},"y":{"datum":59}}},
   {"data":{"values":[{}]},"mark":{"type":"text","text":"かぶ","color":"#ababab"},"encoding":{"x":{"datum":151},"y":{"datum":59}}}]}
 ]},
 {"spacing":0,"hconcat":[
  {"width":4,"height":111,"data":{"values":[{}]},"mark":"point","encoding":{}},
  {"title":"3102","width":241,"height":111,"layer":[
   {"data":{"name":"d"},"transform":[{"filter":"datum.c=='3102'"}],"mark":"line","encoding":{
    "x":{"field":"t","type":"quantitative","scale":{"domain":[-9,232],"nice":false,"zero":false},"axis":{"values":[0],"title":null,"minExtent":20,"maxExtent":20}},
    "y":{"field":"v","type":"quantitative","scale":{"domain":[0,111],"nice":false,"zero":false},"axis":{"values":[0,37,74,111],"title":null}}}},
   {"data":{"values":[{}]},"mark":"rule","encoding":{"y":{"datum":37}}},
   {"data":{"values":[{}]},"mark":{"type":"text","text":"みん","color":"#ebb7ba"},"encoding":{"x":{"datum":82},"y":{"datum":59}}},
   {"data":{"values":[{}]},"mark":{"type":"text","text":"かぶ","color":"#ababab"},"encoding":{"x":{"datum":151},"y":{"datum":59}}}]},
  {"title":"3103","width":241,"height":111,"layer":[
   {"data":{"name":"d"},"transform":[{"filter":"datum.c=='3103'"}],"mark":"line","encoding":{
    "x":{"field":"t","type":"quantitative","scale":{"domain":[-9,232],"nice":false,"zero":false},"axis":{"values":[0],"title":null,"minExtent":20,"maxExtent":20}},
    "y":{"field":"v","type":"quantitative","scale":{"domain":[0,111],"nice":false,"zero":false},"axis":{"values":[0,27.75,55.5,83.25,111],"title":null,"minExtent":27,"maxExtent":27}}}},
   {"data":{"values":[{}]},"mark":"rule","encoding":{"y":{"datum":111}}},
   {"data":{"values":[{}]},"mark":{"type":"text","text":"みん","color":"#ebb7ba"},"encoding":{"x":{"datum":82},"y":{"datum":59}}},
   {"data":{"values":[{}]},"mark":{"type":"text","text":"かぶ","color":"#ababab"},"encoding":{"x":{"datum":151},"y":{"datum":59}}}]}
 ]},
 {"spacing":0,"hconcat":[
  {"width":4,"height":111,"data":{"values":[{}]},"mark":"point","encoding":{}},
  {"title":"3105","width":241,"height":111,"layer":[
   {"data":{"name":"d"},"transform":[{"filter":"datum.c=='3105'"}],"mark":"line","encoding":{
    "x":{"field":"t","type":"quantitative","scale":{"domain":[-9,232],"nice":false,"zero":false},"axis":{"values":[0],"title":null}},
    "y":{"field":"v","type":"quantitative","scale":{"domain":[0,111],"nice":false,"zero":false},"axis":{"values":[0,27.75,55.5,83.25,111],"title":null}}}},
   {"data":{"values":[{}]},"mark":"rule","encoding":{"y":{"datum":111}}},
   {"data":{"values":[{}]},"mark":{"type":"text","text":"みん","color":"#ebb7ba"},"encoding":{"x":{"datum":82},"y":{"datum":59}}},
   {"data":{"values":[{}]},"mark":{"type":"text","text":"かぶ","color":"#ababab"},"encoding":{"x":{"datum":151},"y":{"datum":59}}}]},
  {"title":"3106","width":241,"height":111,"layer":[
   {"data":{"name":"d"},"transform":[{"filter":"datum.c=='3106'"}],"mark":"line","encoding":{
    "x":{"field":"t","type":"quantitative","scale":{"domain":[-9,232],"nice":false,"zero":false},"axis":{"values":[0],"title":null}},
    "y":{"field":"v","type":"quantitative","scale":{"domain":[0,111],"nice":false,"zero":false},"axis":{"values":[0,37,74,111],"title":null,"minExtent":27,"maxExtent":27}}}},
   {"data":{"values":[{}]},"mark":"rule","encoding":{"y":{"datum":74}}},
   {"data":{"values":[{}]},"mark":{"type":"text","text":"みん","color":"#ebb7ba"},"encoding":{"x":{"datum":82},"y":{"datum":59}}},
   {"data":{"values":[{}]},"mark":{"type":"text","text":"かぶ","color":"#ababab"},"encoding":{"x":{"datum":151},"y":{"datum":59}}}]}
 ]}
]},
{"width":27,"height":1298,"data":{"values":[{}]},"mark":{"type":"rect","color":"#c8c8c8"},"encoding":{
 "x":{"datum":24,"type":"quantitative","scale":{"domain":[0,27],"nice":false,"zero":false},"axis":null},"x2":{"datum":27},
 "y":{"datum":0,"type":"quantitative","scale":{"domain":[0,1298],"nice":false,"zero":false},"axis":null},"y2":{"datum":1318}}},
{"columns":1,"align":"none","spacing":30,"concat":[
 {"spacing":0,"hconcat":[
  {"width":1,"height":111,"data":{"values":[{}]},"mark":"point","encoding":{}},
  {"title":"3107","width":241,"height":111,"layer":[
   {"data":{"name":"d"},"transform":[{"filter":"datum.c=='3107'"}],"mark":"line","encoding":{
    "x":{"field":"t","type":"quantitative","scale":{"domain":[-9,232],"nice":false,"zero":false},"axis":{"values":[0],"title":null}},
    "y":{"field":"v","type":"quantitative","scale":{"domain":[0,111],"nice":false,"zero":false},"axis":{"values":[0,22.2,44.4,66.6,88.8,111],"title":null}}}},
   {"data":{"values":[{}]},"mark":"rule","encoding":{"y":{"datum":22.2}}},
   {"data":{"values":[{}]},"mark":{"type":"text","text":"みん","color":"#ebb7ba"},"encoding":{"x":{"datum":82},"y":{"datum":59}}},
   {"data":{"values":[{}]},"mark":{"type":"text","text":"かぶ","color":"#ababab"},"encoding":{"x":{"datum":151},"y":{"datum":59}}}]},
  {"title":"3108","width":241,"height":111,"layer":[
   {"data":{"name":"d"},"transform":[{"filter":"datum.c=='3108'"}],"mark":"line","encoding":{
    "x":{"field":"t","type":"quantitative","scale":{"domain":[-9,232],"nice":false,"zero":false},"axis":{"values":[0],"title":null}},
    "y":{"field":"v","type":"quantitative","scale":{"domain":[0,111],"nice":false,"zero":false},"axis":{"values":[0,27.75,55.5,83.25,111],"title":null,"minExtent":27,"maxExtent":27}}}},
   {"data":{"values":[{}]},"mark":"rule","encoding":{"y":{"datum":83.25}}},
   {"data":{"values":[{}]},"mark":{"type":"text","text":"みん","color":"#ebb7ba"},"encoding":{"x":{"datum":82},"y":{"datum":59}}},
   {"data":{"values":[{}]},"mark":{"type":"text","text":"かぶ","color":"#ababab"},"encoding":{"x":{"datum":151},"y":{"datum":59}}}]}
 ]},
 {"spacing":0,"hconcat":[
  {"width":4,"height":111,"data":{"values":[{}]},"mark":"point","encoding":{}},
  {"title":"3110","width":241,"height":111,"layer":[
   {"data":{"name":"d"},"transform":[{"filter":"datum.c=='3110'"}],"mark":"line","encoding":{
    "x":{"field":"t","type":"quantitative","scale":{"domain":[-9,232],"nice":false,"zero":false},"axis":{"values":[0],"title":null,"minExtent":19,"maxExtent":19}},
    "y":{"field":"v","type":"quantitative","scale":{"domain":[0,111],"nice":false,"zero":false},"axis":{"values":[0,22.2,44.4,66.6,88.8,111],"title":null}}}},
   {"data":{"values":[{}]},"mark":"rule","encoding":{"y":{"datum":22.2}}},
   {"data":{"values":[{}]},"mark":{"type":"text","text":"みん","color":"#ebb7ba"},"encoding":{"x":{"datum":82},"y":{"datum":59}}},
   {"data":{"values":[{}]},"mark":{"type":"text","text":"かぶ","color":"#ababab"},"encoding":{"x":{"datum":151},"y":{"datum":59}}}]},
  {"title":"3111","width":241,"height":111,"layer":[
   {"data":{"name":"d"},"transform":[{"filter":"datum.c=='3111'"}],"mark":"line","encoding":{
    "x":{"field":"t","type":"quantitative","scale":{"domain":[-9,232],"nice":false,"zero":false},"axis":{"values":[0],"title":null,"minExtent":19,"maxExtent":19}},
    "y":{"field":"v","type":"quantitative","scale":{"domain":[0,111],"nice":false,"zero":false},"axis":{"values":[0,22.2,44.4,66.6,88.8,111],"title":null,"minExtent":27,"maxExtent":27}}}},
   {"data":{"values":[{}]},"mark":"rule","encoding":{"y":{"datum":22.2}}},
   {"data":{"values":[{}]},"mark":{"type":"text","text":"みん","color":"#ebb7ba"},"encoding":{"x":{"datum":82},"y":{"datum":59}}},
   {"data":{"values":[{}]},"mark":{"type":"text","text":"かぶ","color":"#ababab"},"encoding":{"x":{"datum":151},"y":{"datum":59}}}]}
 ]},
 {"spacing":0,"hconcat":[
  {"width":4,"height":111,"data":{"values":[{}]},"mark":"point","encoding":{}},
  {"title":"3112","width":241,"height":111,"layer":[
   {"data":{"name":"d"},"transform":[{"filter":"datum.c=='3112'"}],"mark":"line","encoding":{
    "x":{"field":"t","type":"quantitative","scale":{"domain":[-9,232],"nice":false,"zero":false},"axis":{"values":[0],"title":null,"minExtent":20,"maxExtent":20}},
    "y":{"field":"v","type":"quantitative","scale":{"domain":[0,111],"nice":false,"zero":false},"axis":{"values":[0,27.75,55.5,83.25,111],"title":null}}}},
   {"data":{"values":[{}]},"mark":"rule","encoding":{"y":{"datum":83.25}}},
   {"data":{"values":[{}]},"mark":{"type":"text","text":"みん","color":"#ebb7ba"},"encoding":{"x":{"datum":82},"y":{"datum":59}}},
   {"data":{"values":[{}]},"mark":{"type":"text","text":"かぶ","color":"#ababab"},"encoding":{"x":{"datum":151},"y":{"datum":59}}}]},
  {"title":"3113","width":241,"height":111,"layer":[
   {"data":{"name":"d"},"transform":[{"filter":"datum.c=='3113'"}],"mark":"line","encoding":{
    "x":{"field":"t","type":"quantitative","scale":{"domain":[-9,232],"nice":false,"zero":false},"axis":{"values":[0],"title":null,"minExtent":20,"maxExtent":20}},
    "y":{"field":"v","type":"quantitative","scale":{"domain":[0,111],"nice":false,"zero":false},"axis":{"values":[0,37,74,111],"title":null,"minExtent":27,"maxExtent":27}}}},
   {"data":{"values":[{}]},"mark":"rule","encoding":{"y":{"datum":37}}},
   {"data":{"values":[{}]},"mark":{"type":"text","text":"みん","color":"#ebb7ba"},"encoding":{"x":{"datum":82},"y":{"datum":59}}},
   {"data":{"values":[{}]},"mark":{"type":"text","text":"かぶ","color":"#ababab"},"encoding":{"x":{"datum":151},"y":{"datum":59}}}]}
 ]},
 {"spacing":0,"hconcat":[
  {"width":5,"height":111,"data":{"values":[{}]},"mark":"point","encoding":{}},
  {"title":"3115","width":241,"height":111,"layer":[
   {"data":{"name":"d"},"transform":[{"filter":"datum.c=='3115'"}],"mark":"line","encoding":{
    "x":{"field":"t","type":"quantitative","scale":{"domain":[-9,232],"nice":false,"zero":false},"axis":{"values":[0],"title":null,"minExtent":6,"maxExtent":6}},
    "y":{"field":"v","type":"quantitative","scale":{"domain":[0,111],"nice":false,"zero":false},"axis":{"values":[0,37,74,111],"title":null}}}},
   {"data":{"values":[{}]},"mark":"rule","encoding":{"y":{"datum":74}}},
   {"data":{"values":[{}]},"mark":{"type":"text","text":"みん","color":"#ebb7ba"},"encoding":{"x":{"datum":82},"y":{"datum":59}}},
   {"data":{"values":[{}]},"mark":{"type":"text","text":"かぶ","color":"#ababab"},"encoding":{"x":{"datum":151},"y":{"datum":59}}}]},
  {"title":"3116","width":241,"height":111,"layer":[
   {"data":{"name":"d"},"transform":[{"filter":"datum.c=='3116'"}],"mark":"line","encoding":{
    "x":{"field":"t","type":"quantitative","scale":{"domain":[-9,232],"nice":false,"zero":false},"axis":{"values":[0],"title":null,"minExtent":6,"maxExtent":6}},
    "y":{"field":"v","type":"quantitative","scale":{"domain":[0,111],"nice":false,"zero":false},"axis":{"values":[0,37,74,111],"title":null,"minExtent":27,"maxExtent":27}}}},
   {"data":{"values":[{}]},"mark":"rule","encoding":{"y":{"datum":37}}},
   {"data":{"values":[{}]},"mark":{"type":"text","text":"みん","color":"#ebb7ba"},"encoding":{"x":{"datum":82},"y":{"datum":59}}},
   {"data":{"values":[{}]},"mark":{"type":"text","text":"かぶ","color":"#ababab"},"encoding":{"x":{"datum":151},"y":{"datum":59}}}]}
 ]},
 {"spacing":0,"hconcat":[
  {"width":10,"height":111,"data":{"values":[{}]},"mark":"point","encoding":{}},
  {"title":"3117","width":241,"height":111,"layer":[
   {"data":{"name":"d"},"transform":[{"filter":"datum.c=='3117'"}],"mark":"line","encoding":{
    "x":{"field":"t","type":"quantitative","scale":{"domain":[-9,232],"nice":false,"zero":false},"axis":{"values":[0],"title":null,"minExtent":4,"maxExtent":4}},
    "y":{"field":"v","type":"quantitative","scale":{"domain":[0,111],"nice":false,"zero":false},"axis":{"values":[0,22.2,44.4,66.6,88.8,111],"title":null}}}},
   {"data":{"values":[{}]},"mark":"rule","encoding":{"y":{"datum":22.2}}},
   {"data":{"values":[{}]},"mark":{"type":"text","text":"みん","color":"#ebb7ba"},"encoding":{"x":{"datum":82},"y":{"datum":59}}},
   {"data":{"values":[{}]},"mark":{"type":"text","text":"かぶ","color":"#ababab"},"encoding":{"x":{"datum":151},"y":{"datum":59}}}]},
  {"title":"3118","width":241,"height":111,"layer":[
   {"data":{"name":"d"},"transform":[{"filter":"datum.c=='3118'"}],"mark":"line","encoding":{
    "x":{"field":"t","type":"quantitative","scale":{"domain":[-9,232],"nice":false,"zero":false},"axis":{"values":[0],"title":null,"minExtent":4,"maxExtent":4}},
    "y":{"field":"v","type":"quantitative","scale":{"domain":[0,111],"nice":false,"zero":false},"axis":{"values":[0,37,74,111],"title":null,"minExtent":27,"maxExtent":27}}}},
   {"data":{"values":[{}]},"mark":"rule","encoding":{"y":{"datum":74}}},
   {"data":{"values":[{}]},"mark":{"type":"text","text":"みん","color":"#ebb7ba"},"encoding":{"x":{"datum":82},"y":{"datum":59}}},
   {"data":{"values":[{}]},"mark":{"type":"text","text":"かぶ","color":"#ababab"},"encoding":{"x":{"datum":151},"y":{"datum":59}}}]}
 ]},
 {"spacing":0,"hconcat":[
  {"width":13,"height":111,"data":{"values":[{}]},"mark":"point","encoding":{}},
  {"title":"3120","width":241,"height":111,"layer":[
   {"data":{"name":"d"},"transform":[{"filter":"datum.c=='3120'"}],"mark":"line","encoding":{
    "x":{"field":"t","type":"quantitative","scale":{"domain":[-9,232],"nice":false,"zero":false},"axis":{"values":[0],"title":null,"minExtent":11,"maxExtent":11}},
    "y":{"field":"v","type":"quantitative","scale":{"domain":[0,111],"nice":false,"zero":false},"axis":{"values":[0,27.75,55.5,83.25,111],"title":null}}}},
   {"data":{"values":[{}]},"mark":"rule","encoding":{"y":{"datum":83.25}}},
   {"data":{"values":[{}]},"mark":{"type":"text","text":"みん","color":"#ebb7ba"},"encoding":{"x":{"datum":82},"y":{"datum":59}}},
   {"data":{"values":[{}]},"mark":{"type":"text","text":"かぶ","color":"#ababab"},"encoding":{"x":{"datum":151},"y":{"datum":59}}}]},
  {"title":"3121","width":241,"height":111,"layer":[
   {"data":{"name":"d"},"transform":[{"filter":"datum.c=='3121'"}],"mark":"line","encoding":{
    "x":{"field":"t","type":"quantitative","scale":{"domain":[-9,232],"nice":false,"zero":false},"axis":{"values":[0],"title":null,"minExtent":11,"maxExtent":11}},
    "y":{"field":"v","type":"quantitative","scale":{"domain":[0,111],"nice":false,"zero":false},"axis":{"values":[0,27.75,55.5,83.25,111],"title":null,"minExtent":27,"maxExtent":27}}}},
   {"data":{"values":[{}]},"mark":"rule","encoding":{"y":{"datum":111}}},
   {"data":{"values":[{}]},"mark":{"type":"text","text":"みん","color":"#ebb7ba"},"encoding":{"x":{"datum":82},"y":{"datum":59}}},
   {"data":{"values":[{}]},"mark":{"type":"text","text":"かぶ","color":"#ababab"},"encoding":{"x":{"datum":151},"y":{"datum":59}}}]}
 ]},
 {"spacing":0,"hconcat":[
  {"width":16,"height":111,"data":{"values":[{}]},"mark":"point","encoding":{}},
  {"title":"3122","width":241,"height":111,"layer":[
   {"data":{"name":"d"},"transform":[{"filter":"datum.c=='3122'"}],"mark":"line","encoding":{
    "x":{"field":"t","type":"quantitative","scale":{"domain":[-9,232],"nice":false,"zero":false},"axis":{"values":[0],"title":null,"minExtent":17,"maxExtent":17}},
    "y":{"field":"v","type":"quantitative","scale":{"domain":[0,111],"nice":false,"zero":false},"axis":{"values":[0,37,74,111],"title":null}}}},
   {"data":{"values":[{}]},"mark":"rule","encoding":{"y":{"datum":111}}},
   {"data":{"values":[{}]},"mark":{"type":"text","text":"みん","color":"#ebb7ba"},"encoding":{"x":{"datum":82},"y":{"datum":59}}},
   {"data":{"values":[{}]},"mark":{"type":"text","text":"かぶ","color":"#ababab"},"encoding":{"x":{"datum":151},"y":{"datum":59}}}]},
  {"title":"3123","width":241,"height":111,"layer":[
   {"data":{"name":"d"},"transform":[{"filter":"datum.c=='3123'"}],"mark":"line","encoding":{
    "x":{"field":"t","type":"quantitative","scale":{"domain":[-9,232],"nice":false,"zero":false},"axis":{"values":[0],"title":null,"minExtent":17,"maxExtent":17}},
    "y":{"field":"v","type":"quantitative","scale":{"domain":[0,111],"nice":false,"zero":false},"axis":{"values":[0,37,74,111],"title":null,"minExtent":27,"maxExtent":27}}}},
   {"data":{"values":[{}]},"mark":"rule","encoding":{"y":{"datum":74}}},
   {"data":{"values":[{}]},"mark":{"type":"text","text":"みん","color":"#ebb7ba"},"encoding":{"x":{"datum":82},"y":{"datum":59}}},
   {"data":{"values":[{}]},"mark":{"type":"text","text":"かぶ","color":"#ababab"},"encoding":{"x":{"datum":151},"y":{"datum":59}}}]}
 ]},
 {"spacing":0,"hconcat":[
  {"width":18,"height":111,"data":{"values":[{}]},"mark":"point","encoding":{}},
  {"title":"3125","width":241,"height":111,"layer":[
   {"data":{"name":"d"},"transform":[{"filter":"datum.c=='3125'"}],"mark":"line","encoding":{
    "x":{"field":"t","type":"quantitative","scale":{"domain":[-9,232],"nice":false,"zero":false},"axis":{"values":[0],"title":null}},
    "y":{"field":"v","type":"quantitative","scale":{"domain":[0,111],"nice":false,"zero":false},"axis":{"values":[0,22.2,44.4,66.6,88.8,111],"title":null}}}},
   {"data":{"values":[{}]},"mark":"rule","encoding":{"y":{"datum":88.8}}},
   {"data":{"values":[{}]},"mark":{"type":"text","text":"みん","color":"#ebb7ba"},"encoding":{"x":{"datum":82},"y":{"datum":59}}},
   {"data":{"values":[{}]},"mark":{"type":"text","text":"かぶ","color":"#ababab"},"encoding":{"x":{"datum":151},"y":{"datum":59}}}]}
 ]}
]}
]
}
